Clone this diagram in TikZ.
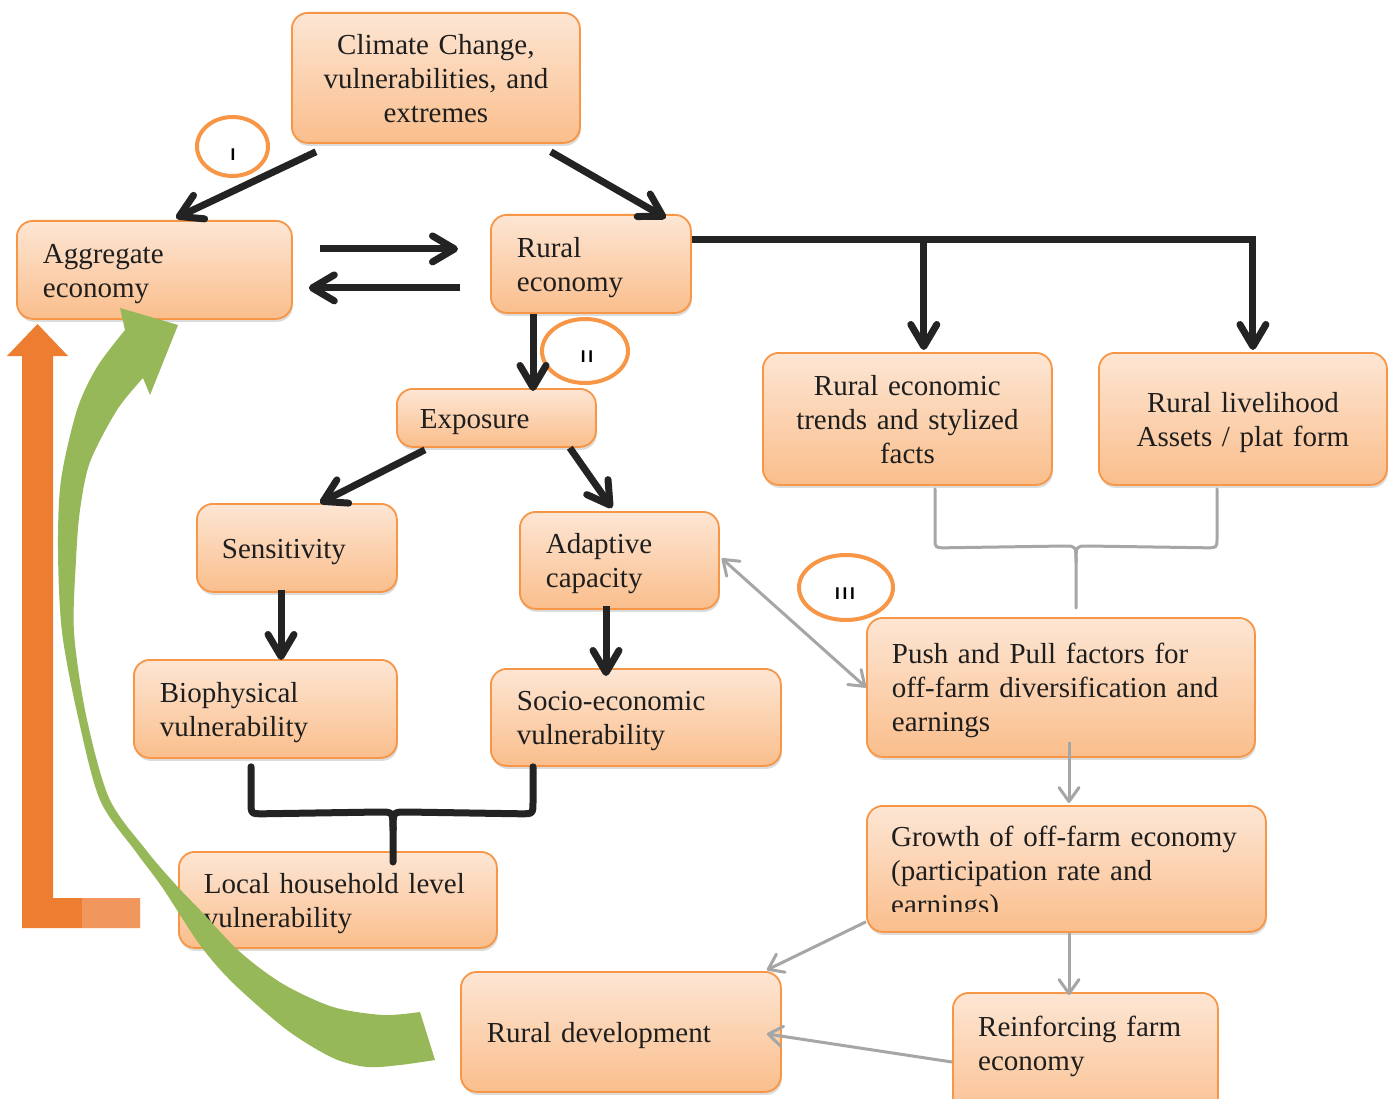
\documentclass[tikz,border=0pt]{standalone}
\usepackage{fontspec}
\setmainfont{Liberation Serif}
\newfontfamily\labelfont{Liberation Sans}
\usetikzlibrary{arrows.meta,calc,shapes.geometric,shadows}
\definecolor{boxtop}{RGB}{253,230,212}
\definecolor{boxbot}{RGB}{250,190,140}
\definecolor{boxborder}{RGB}{247,150,70}
\definecolor{txt}{RGB}{30,30,30}
\definecolor{blk}{RGB}{35,35,35}
\definecolor{gry}{RGB}{166,166,166}
\definecolor{ringc}{RGB}{247,150,70}
\definecolor{orng}{RGB}{237,125,49}
\definecolor{orngl}{RGB}{241,150,92}
\definecolor{grn}{RGB}{150,184,88}
\begin{document}
\begin{tikzpicture}[x=1pt,y=-1pt,
  boxtext/.style={inner xsep=26pt, inner ysep=0pt, font=\fontsize{29}{34}\selectfont, text=txt, anchor=north west},
  box/.style={boxtext, draw=boxborder, line width=1.8pt, rounded corners=16pt, top color=boxtop, bottom color=boxbot,
    drop shadow={shadow xshift=1pt, shadow yshift=-3pt, opacity=0.3, fill=black!45}},
  struts/.style={execute at begin node={\rule{0pt}{28pt}}, execute at end node={\rule[-7pt]{0pt}{7pt}}},
  lft/.style={align=left, struts},
  ctr/.style={align=center, struts},
  bigarrow/.style={draw=blk, line width=7pt, -{Straight Barb[length=22pt,width=26pt,round]}},
  blackbrace/.style={draw=blk, line width=7pt, line cap=round, line join=round},
  grayline/.style={draw=gry, line width=3pt},
  grayarrow/.style={grayline, -{Straight Barb[length=14pt,width=20pt,round]}},
  graydouble/.style={grayline, {Straight Barb[length=14pt,width=20pt,round]}-{Straight Barb[length=14pt,width=20pt,round]}},
  graybrace/.style={grayline, line cap=round, line join=round},
  ring/.style={ellipse, draw=ringc, line width=4pt, inner sep=0pt},
  ringlabel/.style={font=\labelfont\bfseries\fontsize{17}{17}\selectfont, text=black, inner sep=0pt},
  greenarrow/.style={fill=grn},
  orangearrow/.style={fill=orng}
]
\useasboundingbox (0,0) rectangle (1397,1099);
\fill[white] (0,0) rectangle (1397,1099);

% boxes
\node[box, ctr, minimum width=288pt, minimum height=130pt, text width=236pt] (climate) at (291,12) {Climate Change,\\vulnerabilities, and\\extremes};
\node[box, lft, minimum width=275pt, minimum height=98pt, text width=223pt] (agg) at (16,220) {Aggregate\\economy};
\node[box, lft, minimum width=200pt, minimum height=98pt, text width=148pt] (rural) at (490,214) {Rural\\economy};
\node[box, lft, minimum width=199pt, minimum height=58pt, text width=153pt, inner xsep=23pt] (expo) at (396,388) {Exposure};
\node[box, lft, minimum width=200pt, minimum height=88pt, text width=150pt, inner xsep=25pt] (sens) at (196,503) {Sensitivity};
\node[box, lft, minimum width=199pt, minimum height=97pt, text width=147pt] (adapt) at (519,511) {Adaptive\\capacity};
\node[box, lft, minimum width=263pt, minimum height=98pt, text width=211pt] (bio) at (133,659) {Biophysical\\vulnerability};
\node[box, lft, minimum width=290pt, minimum height=97pt, text width=238pt] (socio) at (490,668) {Socio-economic\\vulnerability};
\node[box, lft, minimum width=318pt, minimum height=96pt, text width=268pt, inner xsep=25pt] (local) at (178,851) {Local household level\\vulnerability};
\node[box, lft, minimum width=320pt, minimum height=120pt, text width=268pt] (ruraldev) at (460,971) {Rural development};
\node[box, ctr, minimum width=289pt, minimum height=132pt, text width=249pt, inner xsep=20pt] (trends) at (762,352) {Rural economic\\trends and stylized\\facts};
\node[box, ctr, minimum width=288pt, minimum height=132pt, text width=248pt, inner xsep=20pt] (liv) at (1098,352) {Rural livelihood\\Assets / plat form};
\node[box, lft, minimum width=388pt, minimum height=139pt, text width=338pt, inner xsep=25pt] (push) at (866,617) {Push and Pull factors for\\off-farm diversification and\\earnings};
\node[box, minimum width=399pt, minimum height=126pt] (growth) at (866,805) {};
\begin{scope}
  \clip (860,800) rectangle (1270,911);
  \node[boxtext, lft, minimum width=399pt, minimum height=126pt, text width=349pt, inner xsep=25pt] (growthtext) at (866,807) {Growth of off-farm economy\\(participation rate and\\earnings)};
\end{scope}
\node[box, minimum width=265pt, minimum height=135pt] (reinf) at (952,992) {};
\node[boxtext, lft, minimum width=265pt, minimum height=102pt, text width=213pt] (reinftext) at (952,992) {Reinforcing farm\\economy};

% rings
\node[ring, minimum width=71pt, minimum height=59pt] (c1) at (232.5,146.5) {};
\node[ringlabel] (t1) at ($(c1.center)+(0.5,8)$) {I};
\node[ring, minimum width=86pt, minimum height=64pt] (c2) at (585,351) {};
\node[ringlabel] (t2) at ($(c2.center)+(2,6)$) {I\,I};
\node[ring, minimum width=94pt, minimum height=65pt] (c3) at (846,587.5) {};
\node[ringlabel] (t3) at ($(c3.center)+(-1,6)$) {I\,I\,I};

% black arrows
\draw[bigarrow] ($(climate.south west)+(25,8)$) -- ($(agg.north west)+(160,-2)$);
\draw[bigarrow] ($(climate.south east)+(-30,8)$) -- ($(rural.north east)+(-26,4)$);
\draw[bigarrow] ($(agg.east)+(27,-21)$) -- ($(rural.west)+(-32,-15)$);
\draw[bigarrow] ($(rural.west)+(-30,24)$) -- ($(agg.east)+(16,18)$);
\coordinate (split) at ($(rural.north east)+(232,26)$);
\draw[bigarrow] ($(rural.north east)+(0,26)$) -| ($(liv.north)+(10,-2)$);
\draw[bigarrow] (split) -- ($(split |- trends.north)+(0,-2)$);
\draw[bigarrow] ($(rural.south west)+(43,0)$) -- ($(expo.north west)+(137,3)$);
\draw[bigarrow] ($(expo.south west)+(29,2)$) -- ($(sens.north west)+(124,0)$);
\draw[bigarrow] ($(expo.south east)+(-27,0)$) -- ($(adapt.north west)+(93,-3)$);
\draw[bigarrow] ($(sens.south west)+(85,-3)$) -- ($(bio.north west)+(148,1)$);
\draw[bigarrow] ($(adapt.south west)+(87,-4)$) -- ($(socio.north west)+(116,8)$);

% black brace
\coordinate (bl) at ($(bio.south west)+(118,8)$);
\coordinate (br) at ($(socio.south west)+(43,0)$);
\coordinate (bm) at ($(local.north west)+(215,11)$);
\draw[blackbrace] (bl) -- ($(bl)+(0,35)$) .. controls ($(bl)+(0,47)$) .. ($(bl)+(12,47)$) -- ($(bm)+(-13,-50)$) .. controls ($(bm)+(0,-50)$) .. ($(bm)+(0,-32)$) -- (bm);
\draw[blackbrace] (br) -- ($(br)+(0,35)$) .. controls ($(br)+(0,47)$) .. ($(br)+(-12,47)$) -- ($(bm)+(13,-50)$) .. controls ($(bm)+(0,-50)$) .. ($(bm)+(0,-32)$);

% gray brace
\coordinate (gl) at ($(trends.south west)+(173,3)$);
\coordinate (gr) at ($(liv.south west)+(119,3)$);
\coordinate (gm) at ($(push.north west)+(210,-9)$);
\draw[graybrace] (gl) -- ($(gl)+(0,49)$) .. controls ($(gl)+(0,59)$) .. ($(gl)+(10,59)$) -- ($(gm)+(-11,-62)$) .. controls ($(gm)+(0,-62)$) .. ($(gm)+(0,-45)$) -- (gm);
\draw[graybrace] (gr) -- ($(gr)+(0,49)$) .. controls ($(gr)+(0,59)$) .. ($(gr)+(-10,59)$) -- ($(gm)+(11,-62)$) .. controls ($(gm)+(0,-62)$) .. ($(gm)+(0,-45)$);

% gray arrows
\draw[graydouble] ($(adapt.east)+(2,-2)$) -- (push.west);
\draw[grayarrow] ($(push.south west)+(203,-16)$) -- ($(growth.north west)+(203,-2)$);
\draw[grayarrow] ($(growth.south west)+(203,0)$) -- ($(reinf.north west)+(117,3)$);
\draw[grayarrow] ($(growth.south west)+(0,-11)$) -- ($(ruraldev.north east)+(-15,-1)$);
\draw[grayarrow] ($(reinf.north west)+(0,70)$) -- ($(ruraldev.east)+(-15,2)$);

% orange L arrow
\fill[orangearrow] (22,928) -- (140,928) -- (140,898) -- (53,898) -- (53,356) -- (68,356) -- (37.5,324) -- (7,356) -- (22,356) -- cycle;
\fill[orngl] (82,898) rectangle (140,928);

% green curved arrow
\fill[greenarrow] (120,308) -- (178,325) -- (150,395) -- (143,378)
  -- plot[smooth, tension=0.5] coordinates {(143,378) (117,410) (90,462) (80,510) (76,560) (74,632) (86,715) (109,798) (146,850) (176,885) (200,910) (240,952) (283,984) (333,1007) (383,1015) (420,1012)}
  -- (435,1060)
  -- plot[smooth, tension=0.5] coordinates {(435,1060) (400,1065) (367,1067) (333,1058) (287,1030) (233,983) (200,945) (162,887) (136,852) (100,800) (78,717) (62,632) (58,549) (61,480) (77,410) (97,367) (125,330)}
  -- cycle;
\end{tikzpicture}
\end{document}
